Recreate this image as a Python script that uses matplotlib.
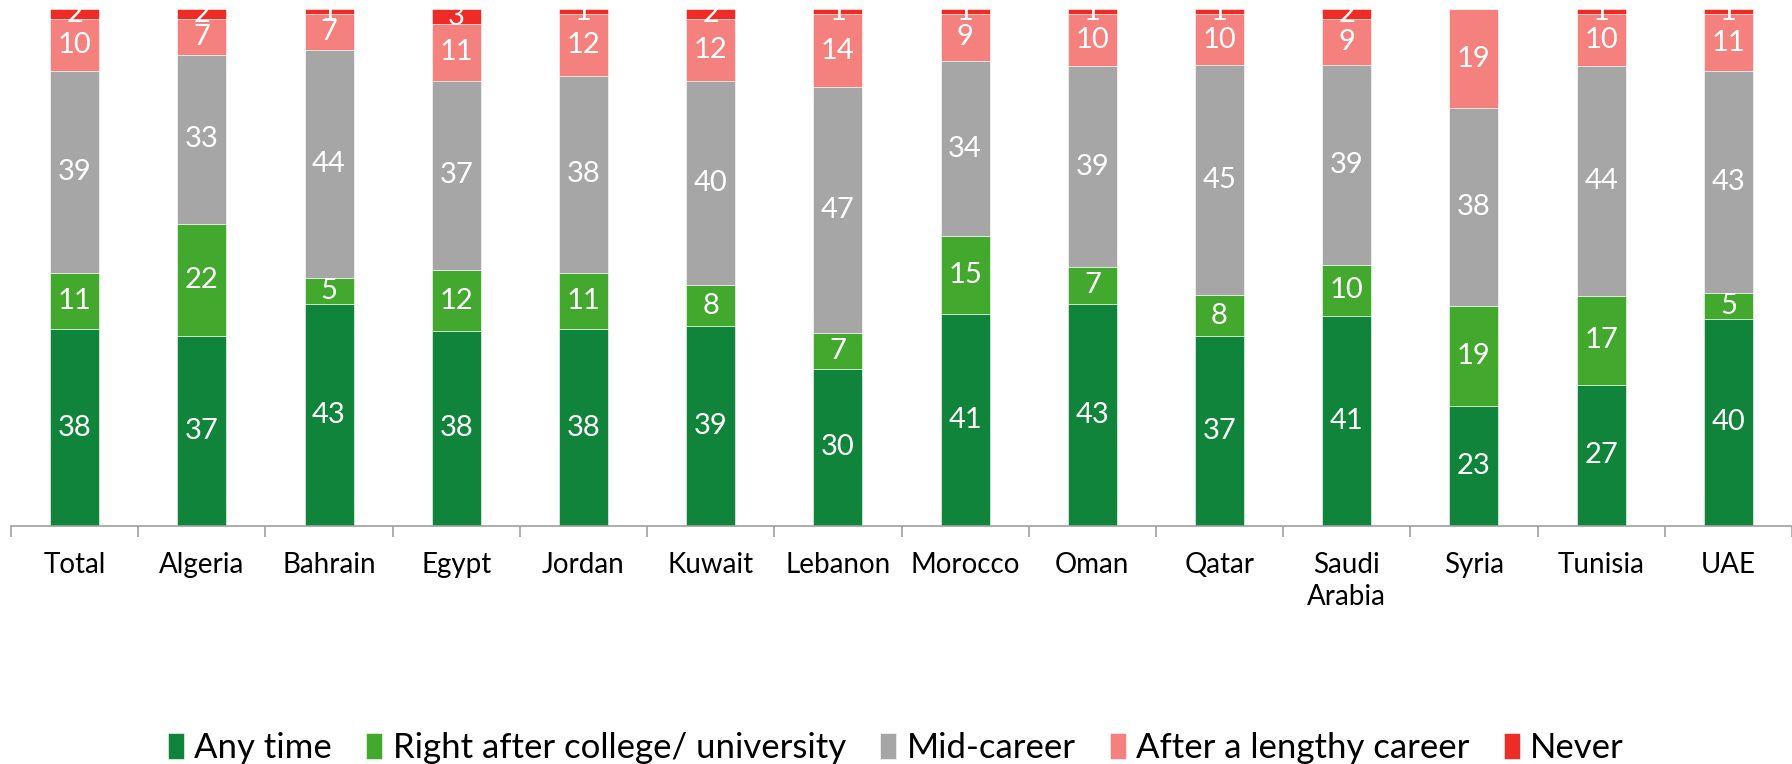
import numpy as np
import matplotlib
matplotlib.use("Agg")
import matplotlib.pyplot as plt

plt.rcParams['font.family'] = ['Lato', 'DejaVu Sans']

countries = ["Total", "Algeria", "Bahrain", "Egypt", "Jordan", "Kuwait", "Lebanon",
             "Morocco", "Oman", "Qatar", "Saudi\nArabia", "Syria", "Tunisia", "UAE"]
any_time = [38, 37, 43, 38, 38, 39, 30, 41, 43, 37, 41, 23, 27, 40]
after_college = [11, 22, 5, 12, 11, 8, 7, 15, 7, 8, 10, 19, 17, 5]
mid_career = [39, 33, 44, 37, 38, 40, 47, 34, 39, 45, 39, 38, 44, 43]
lengthy_career = [10, 7, 7, 11, 12, 12, 14, 9, 10, 10, 9, 19, 10, 11]
never = [2, 2, 1, 3, 1, 2, 1, 1, 1, 1, 2, 0, 1, 1]

series = [
    ("Any time", any_time, "#10843A"),
    ("Right after college/ university", after_college, "#42A82E"),
    ("Mid-career", mid_career, "#A6A6A6"),
    ("After a lengthy career", lengthy_career, "#F4817D"),
    ("Never", never, "#EE2B24"),
]

# 100% stacked: each bar scaled to its own total
totals = np.sum([np.array(s[1], dtype=float) for s in series], axis=0)

fig = plt.figure(figsize=(17.92, 7.64), dpi=100)
ax = fig.add_axes([11 / 1792, 1 - 525.7 / 764, 1 - 11 / 1792, (525.7 - 9) / 764])

x = np.arange(len(countries))
bottom = np.zeros(len(countries))
for name, vals, col in series:
    vals = np.array(vals, dtype=float)
    h = vals / totals * 100
    ax.bar(x, h, 0.385, bottom=bottom, color=col, label=name,
           edgecolor="white", linewidth=0.4)
    for xi, b, hh, v in zip(x, bottom, h, vals):
        if v > 0:
            ax.text(xi, b + hh / 2, f"{int(v)}", ha="center", va="center",
                    color="white", fontsize=21, clip_on=True)
    bottom += h

ax.set_ylim(0, 100)
ax.set_xlim(-0.5, len(countries) - 0.5)
ax.set_yticks([])
for s in ["top", "right", "left"]:
    ax.spines[s].set_visible(False)
ax.spines["bottom"].set_color("#A0A0A0")
ax.spines["bottom"].set_linewidth(1.2)

ax.set_xticks(x)
ax.set_xticklabels(countries, fontsize=20, linespacing=1.3)
ax.tick_params(axis="x", which="major", length=0, pad=19)
ax.set_xticks(np.arange(-0.5, len(countries), 1.0), minor=True)
ax.tick_params(axis="x", which="minor", length=8, color="#A0A0A0", width=1.2)

fig.legend(loc="center", bbox_to_anchor=(0.5, 1 - 748 / 764), ncol=5, frameon=False,
           fontsize=25, handlelength=0.45, handleheight=0.8, handletextpad=0.3,
           columnspacing=1.0)

fig.savefig("out.png", dpi=100)
